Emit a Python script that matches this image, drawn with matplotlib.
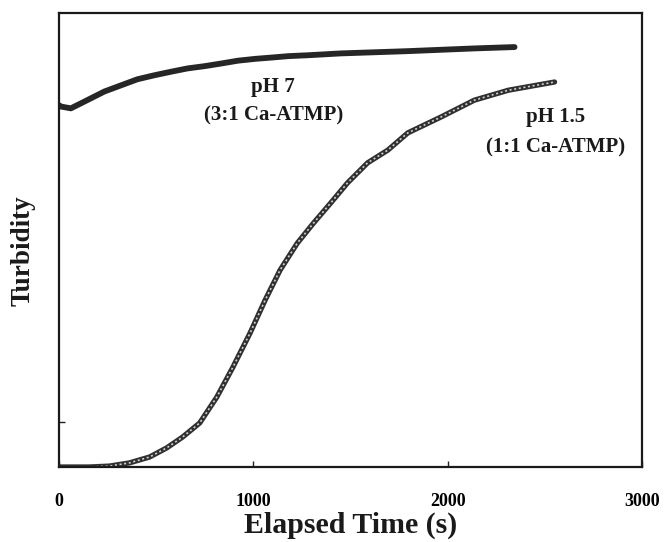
import matplotlib.pyplot as plt
import numpy as np

# time (s) and turbidity (arbitrary units, 0..1)
t_ph7 = [0, 9, 61, 145, 233, 321, 403, 492, 580, 662, 750, 838, 921, 1009,
         1097, 1180, 1283, 1449, 1795, 2137, 2344]
turb_ph7 = [0.797, 0.794, 0.790, 0.808, 0.827, 0.841, 0.854, 0.863, 0.871,
            0.878, 0.883, 0.889, 0.895, 0.899, 0.902, 0.905, 0.907, 0.911,
            0.916, 0.922, 0.925]

t_ph15 = [0, 155, 259, 362, 466, 554, 636, 724, 812, 895, 983, 1061, 1138,
          1226, 1309, 1397, 1485, 1588, 1692, 1795, 1966, 2137, 2313, 2550]
turb_ph15 = [0.0, 0.0, 0.002, 0.009, 0.022, 0.042, 0.066, 0.097, 0.154, 0.220,
             0.295, 0.368, 0.434, 0.493, 0.537, 0.581, 0.626, 0.670, 0.698,
             0.736, 0.771, 0.808, 0.830, 0.848]

xticks = [0, 1000, 2000, 3000]

plt.rcParams['font.family'] = ['Liberation Serif', 'DejaVu Serif']
plt.rcParams['font.weight'] = 'bold'

fig = plt.figure(figsize=(6.64, 5.42), dpi=100)
ax = fig.add_axes([0.0889, 0.1384, 0.878, 0.8376])

# pH 7 - thick dark trace
ax.plot(t_ph7, turb_ph7, color='#262626', lw=4.2, solid_capstyle='round',
        solid_joinstyle='round')

# pH 1.5 - chain of small open circles
ax.plot(t_ph15, turb_ph15, color='#303030', lw=3.8, solid_capstyle='round',
        solid_joinstyle='round')
ax.plot(t_ph15, turb_ph15, color='#d0d0d0', lw=1.2, linestyle=(0, (1.2, 1.6)))

ax.set_xlim(0, 3000)
ax.set_ylim(0, 1.0)
ax.set_xticks(xticks)
ax.set_xticklabels([str(v) for v in xticks], fontsize=13, fontweight='bold')
ax.set_yticks([0.1])
ax.set_yticklabels([])
ax.tick_params(axis='both', direction='in', length=4, width=1, color='#222222')
ax.tick_params(axis='x', pad=18.5)
ax.tick_params(axis='y', pad=2)

for s in ax.spines.values():
    s.set_linewidth(1.6)
    s.set_color('#1a1a1a')

ax.set_xlabel('Elapsed Time (s)', fontsize=21.5, fontweight='bold', color='#1a1a1a')
ax.xaxis.set_label_coords(0.5, -0.099)
ax.set_ylabel('Turbidity', fontsize=19.5, fontweight='bold', color='#1a1a1a')
ax.yaxis.set_label_coords(-0.041, 0.476)

ax.text(1102, 0.806, 'pH 7\n(3:1 Ca-ATMP)', ha='center', va='center', fontsize=15,
        fontweight='bold', color='#1a1a1a', linespacing=1.6)
ax.text(2555, 0.738, 'pH 1.5\n(1:1 Ca-ATMP)', ha='center', va='center', fontsize=15,
        fontweight='bold', color='#1a1a1a', linespacing=1.7)

fig.savefig('out.png', dpi=100)
